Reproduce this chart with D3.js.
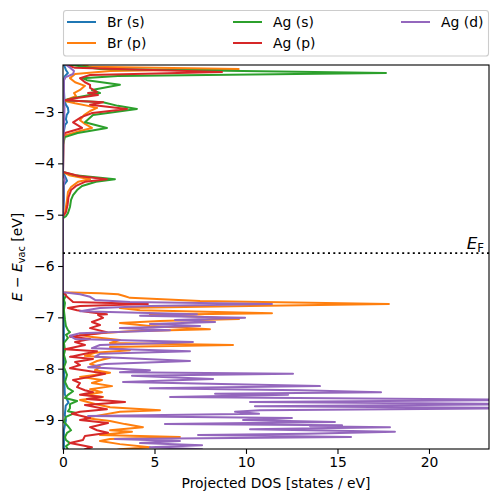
<!DOCTYPE html>
<html><head><meta charset="utf-8">
<script src="https://cdn.jsdelivr.net/npm/d3@7"></script>
<style>body{margin:0;background:#fff} text{font-family:"DejaVu Sans",sans-serif;fill:#000}</style>
</head><body><svg id="c" width="498" height="502"></svg>
<script>
const seriesNames = ["Br (s)", "Br (p)", "Ag (s)", "Ag (p)", "Ag (d)"];
const seriesColors = ["#1f77b4", "#ff7f0e", "#2ca02c", "#d62728", "#9467bd"];
const xTicks = [0, 5, 10, 15, 20];
const yTicks = [-3, -4, -5, -6, -7, -8, -9];
const xDomain = [0, 23.28];
const yDomain = [-9.565, -2.084];
const fermiLevel = -5.75;

// [energy (eV), projected DOS (states/eV)]
const brS = [[-2.00,0.05],[-2.08,0.05],[-2.18,0.16],[-2.24,0.27],[-2.30,0.1],[-2.38,0.05],[-2.57,0.05],[-2.77,0.08],[-2.86,0.16],[-2.92,0.27],[-3.00,0.3],[-3.06,0.2],[-3.14,0.16],[-3.20,0.22],[-3.25,0.11],[-3.37,0.05],[-3.50,0.02],[-4.17,0.0],[-4.29,0.16],[-4.34,0.22],[-4.42,0.05],[-4.71,0.05],[-5.03,0.0],[-6.51,0.0],[-6.70,0.03],[-7.0,0.04],[-7.5,0.05],[-8.0,0.05],[-8.5,0.1],[-8.6,0.22],[-8.66,0.3],[-8.72,0.15],[-8.9,0.1],[-9.0,0.16],[-9.2,0.05],[-9.7,0.05]];

const brP = [[-2.00,0.3],[-2.12,1.48],[-2.16,9.6],[-2.20,2.57],[-2.26,0.66],[-2.34,0.38],[-2.42,0.66],[-2.49,1.2],[-2.57,0.93],[-2.63,0.60],[-2.69,0.71],[-2.75,0.27],[-2.79,0.16],[-2.83,0.66],[-2.88,1.37],[-2.92,1.86],[-2.98,1.48],[-3.06,1.15],[-3.16,0.93],[-3.23,1.2],[-3.31,1.58],[-3.37,0.93],[-3.45,0.16],[-3.51,0.02],[-4.17,0.0],[-4.23,0.33],[-4.31,1.48],[-4.36,0.82],[-4.46,0.44],[-4.56,0.27],[-4.71,0.22],[-4.85,0.16],[-4.97,0.11],[-5.03,0.0],
  [-6.51,0.0],[-6.53,2.02],[-6.55,3.01],[-6.59,3.39],[-6.62,3.66],[-6.68,7.49],[-6.74,17.81],[-6.78,10.22],[-6.82,3.11],[-6.86,4.21],[-6.92,11.42],[-6.95,4.75],[-6.99,7.49],[-7.03,9.62],[-7.07,5.30],[-7.11,3.11],[-7.17,4.75],[-7.23,8.03],[-7.27,3.66],[-7.31,2.02],[-7.34,0.93],[-7.38,1.48],[-7.44,3.11],[-7.50,2.57],[-7.54,9.29],[-7.58,2.57],[-7.64,3.66],[-7.69,1.75],[-7.75,1.2],[-7.79,2.57],[-7.85,1.86],[-7.91,1.48],[-7.97,2.02],[-8.03,1.75],[-8.08,2.57],[-8.16,0.93],[-8.22,2.13],[-8.28,1.58],[-8.34,2.68],[-8.40,1.48],[-8.46,2.13],[-8.51,1.2],[-8.55,2.19],[-8.61,0.93],[-8.69,1.75],[-8.75,2.57],[-8.81,5.30],[-8.84,3.11],[-8.90,2.13],[-8.96,1.2],[-9.02,2.57],[-9.08,3.39],[-9.14,4.37],[-9.20,2.57],[-9.23,3.77],[-9.29,2.02],[-9.33,6.39],[-9.37,2.57],[-9.41,2.02],[-9.47,3.11],[-9.53,4.75],[-9.57,3.11],[-9.62,2.5]];

const agS = [[-2.00,0.5],[-2.08,0.38],[-2.16,2.0],[-2.24,17.65],[-2.30,3.0],[-2.34,1.04],[-2.38,1.31],[-2.47,3.11],[-2.57,1.58],[-2.63,2.02],[-2.71,0.82],[-2.77,0.05],[-2.81,2.19],[-2.88,3.0],[-2.94,4.04],[-3.06,1.64],[-3.20,1.2],[-3.31,2.4],[-3.41,0.8],[-3.49,0.1],[-3.64,0.0],[-4.17,0.0],[-4.23,0.66],[-4.31,2.84],[-4.36,1.8],[-4.44,1.04],[-4.52,0.77],[-4.62,0.55],[-4.71,0.44],[-4.85,0.38],[-4.97,0.27],[-5.03,0.16],[-5.07,0.0],
  [-6.51,0.0],[-6.57,0.16],[-6.66,0.05],[-6.72,0.11],[-6.86,0.05],[-7.05,0.11],[-7.17,0.16],[-7.25,0.27],[-7.29,0.38],[-7.34,0.16],[-7.40,0.27],[-7.50,0.05],[-7.64,0.11],[-7.73,0.05],[-7.87,0.16],[-7.97,0.05],[-8.12,0.22],[-8.26,0.11],[-8.38,0.27],[-8.44,0.55],[-8.51,0.27],[-8.57,0.11],[-8.63,0.77],[-8.69,0.38],[-8.77,0.38],[-8.83,0.27],[-8.86,0.66],[-8.94,0.16],[-9.04,0.05],[-9.12,0.27],[-9.20,0.44],[-9.25,0.22],[-9.33,0.11],[-9.39,0.16],[-9.45,0.38],[-9.51,0.16],[-9.57,0.27],[-9.62,0.2]];

const agP = [[-2.00,0.1],[-2.08,0.16],[-2.14,0.66],[-2.22,8.69],[-2.28,1.48],[-2.34,0.93],[-2.42,1.2],[-2.47,1.48],[-2.53,1.48],[-2.61,1.86],[-2.63,1.37],[-2.67,1.91],[-2.73,0.66],[-2.77,0.1],[-2.81,2.19],[-2.86,1.48],[-2.94,3.50],[-3.02,1.6],[-3.10,1.0],[-3.20,0.55],[-3.31,1.04],[-3.41,0.11],[-3.49,0.02],[-4.17,0.0],[-4.25,0.93],[-4.31,2.4],[-4.36,1.2],[-4.44,0.71],[-4.52,0.44],[-4.66,0.3],[-4.81,0.25],[-4.95,0.16],[-5.03,0.0],
  [-6.51,0.0],[-6.55,0.11],[-6.60,0.22],[-6.70,0.55],[-6.74,4.64],[-6.78,0.93],[-6.82,0.27],[-6.86,0.77],[-6.90,1.48],[-6.94,2.40],[-6.95,1.91],[-7.01,2.19],[-7.09,1.58],[-7.15,2.02],[-7.21,1.48],[-7.29,2.40],[-7.34,1.37],[-7.38,0.38],[-7.42,1.48],[-7.48,0.66],[-7.54,1.2],[-7.62,0.11],[-7.66,1.86],[-7.71,1.2],[-7.77,0.38],[-7.81,1.64],[-7.87,0.66],[-7.93,0.93],[-7.99,0.38],[-8.05,1.48],[-8.10,2.30],[-8.16,1.48],[-8.22,0.55],[-8.28,0.93],[-8.36,0.77],[-8.42,1.2],[-8.46,1.64],[-8.51,0.93],[-8.55,2.13],[-8.59,1.31],[-8.65,3.39],[-8.71,1.2],[-8.79,2.40],[-8.84,0.93],[-8.88,0.49],[-8.96,1.48],[-9.00,0.93],[-9.06,2.46],[-9.14,1.48],[-9.20,1.86],[-9.25,2.46],[-9.31,1.2],[-9.39,1.09],[-9.45,0.38],[-9.53,1.58],[-9.57,1.2],[-9.62,1.0]];

const agD = [[-2.00,0.2],[-2.08,0.16],[-2.14,0.4],[-2.20,0.6],[-2.26,0.55],[-2.32,0.15],[-2.38,0.05],[-2.77,0.05],[-2.92,0.08],[-3.16,0.06],[-3.49,0.02],[-4.23,0.0],[-4.31,0.1],[-4.42,0.03],[-5.03,0.0],
  [-6.51,0.0],[-6.55,0.93],[-6.60,1.48],[-6.66,1.75],[-6.70,3.66],[-6.74,11.42],[-6.78,4.75],[-6.82,2.02],[-6.88,0.93],[-6.94,7.32],[-6.97,4.21],[-7.01,9.95],[-7.05,6.12],[-7.09,8.31],[-7.13,4.75],[-7.17,7.49],[-7.21,3.11],[-7.25,5.85],[-7.31,0.93],[-7.36,0.38],[-7.42,0.66],[-7.48,7.10],[-7.54,2.02],[-7.60,1.58],[-7.66,6.94],[-7.71,2.02],[-7.77,1.75],[-7.85,6.94],[-7.91,2.30],[-7.97,1.37],[-8.03,4.75],[-8.07,3.11],[-8.10,12.57],[-8.14,3.77],[-8.20,8.20],[-8.26,3.28],[-8.34,14.04],[-8.38,4.75],[-8.42,12.95],[-8.46,17.38],[-8.49,8.31],[-8.51,12.30],[-8.55,5.85],[-8.61,26.0],[-8.65,10.22],[-8.69,26.0],[-8.73,10.49],[-8.77,26.0],[-8.81,10.77],[-8.84,9.40],[-8.88,10.71],[-8.92,1.37],[-8.96,12.51],[-9.00,9.84],[-9.04,14.86],[-9.08,5.57],[-9.10,15.25],[-9.12,13.50],[-9.14,17.87],[-9.18,10.22],[-9.23,18.14],[-9.27,13.33],[-9.29,7.38],[-9.33,15.74],[-9.37,2.84],[-9.41,6.39],[-9.45,4.21],[-9.49,7.60],[-9.53,4.75],[-9.57,7.60],[-9.62,5.0]];

const seriesData = [brS, brP, agS, agP, agD];

const W = 498, H = 502;
const L = 63, R = 489, T = 65, B = 449;
const svg = d3.select("#c");
const x = d3.scaleLinear().domain(xDomain).range([L, R]);
const y = d3.scaleLinear().domain(yDomain).range([B, T]);
const FS = 13.9;

svg.append("defs").append("clipPath").attr("id", "clip")
  .append("rect").attr("x", L).attr("y", T).attr("width", R - L).attr("height", B - T);

const plot = svg.append("g").attr("clip-path", "url(#clip)");
const line = d3.line().x(d => x(d[1])).y(d => y(d[0]));
seriesData.forEach((s, i) => {
  plot.append("path").datum(s).attr("d", line)
    .attr("fill", "none").attr("stroke", seriesColors[i])
    .attr("stroke-width", 2).attr("stroke-linejoin", "round");
});

// Fermi level
plot.append("line").attr("x1", L).attr("x2", R)
  .attr("y1", y(fermiLevel)).attr("y2", y(fermiLevel))
  .attr("stroke", "#000").attr("stroke-width", 1.8).attr("stroke-dasharray", "2,3.3");

svg.append("text").attr("x", 484).attr("y", y(fermiLevel) - 4)
  .attr("text-anchor", "end").attr("font-size", 16.7)
  .html('<tspan font-style="italic">E</tspan><tspan font-size="11.7" dy="3">F</tspan>');

// Axes
const xAxis = d3.axisBottom(x).tickValues(xTicks).tickSize(4.9).tickPadding(3.6).tickFormat(d3.format("d"));
const yAxis = d3.axisLeft(y).tickValues(yTicks).tickSize(4.9).tickPadding(3.6).tickFormat(d => (d < 0 ? "\u2212" : "") + Math.abs(d));
const gx = svg.append("g").attr("transform", `translate(0,${B})`).call(xAxis);
const gy = svg.append("g").attr("transform", `translate(${L},0)`).call(yAxis);
[gx, gy].forEach(g => {
  g.select(".domain").remove();
  g.selectAll(".tick line").attr("stroke", "#000").attr("stroke-width", 1.1);
  g.selectAll(".tick text").attr("font-size", FS).attr("font-family", "DejaVu Sans").attr("fill", "#000");
});

svg.append("rect").attr("x", L).attr("y", T).attr("width", R - L).attr("height", B - T)
  .attr("fill", "none").attr("stroke", "#000").attr("stroke-width", 1.1);

// Axis labels
svg.append("text").attr("x", (L + R) / 2).attr("y", 488).attr("text-anchor", "middle")
  .attr("font-size", FS).text("Projected DOS [states / eV]");
svg.append("text").attr("transform", `translate(22,${(T + B) / 2}) rotate(-90)`)
  .attr("text-anchor", "middle").attr("font-size", FS)
  .html('<tspan font-style="italic">E</tspan><tspan> \u2212 </tspan><tspan font-style="italic">E</tspan><tspan font-size="9.7" dy="2.5">vac</tspan><tspan dy="-2.5"> [eV]</tspan>');

// Legend
const leg = svg.append("g");
leg.append("rect").attr("x", 63.5).attr("y", 10.5).attr("width", 425).attr("height", 45.5)
  .attr("rx", 2.8).attr("fill", "#fff").attr("fill-opacity", 0.8)
  .attr("stroke", "#cccccc").attr("stroke-width", 1.1);
const colX = [67, 233, 401];
const rowY = [22, 43];
seriesNames.forEach((n, i) => {
  const c = Math.floor(i / 2), r = i % 2;
  const gx0 = colX[c], gy0 = rowY[r];
  leg.append("line").attr("x1", gx0).attr("x2", gx0 + 29).attr("y1", gy0).attr("y2", gy0)
    .attr("stroke", seriesColors[i]).attr("stroke-width", 2);
  leg.append("text").attr("x", gx0 + 40).attr("y", gy0).attr("dy", "0.36em")
    .attr("font-size", FS).text(n);
});
</script></body></html>
